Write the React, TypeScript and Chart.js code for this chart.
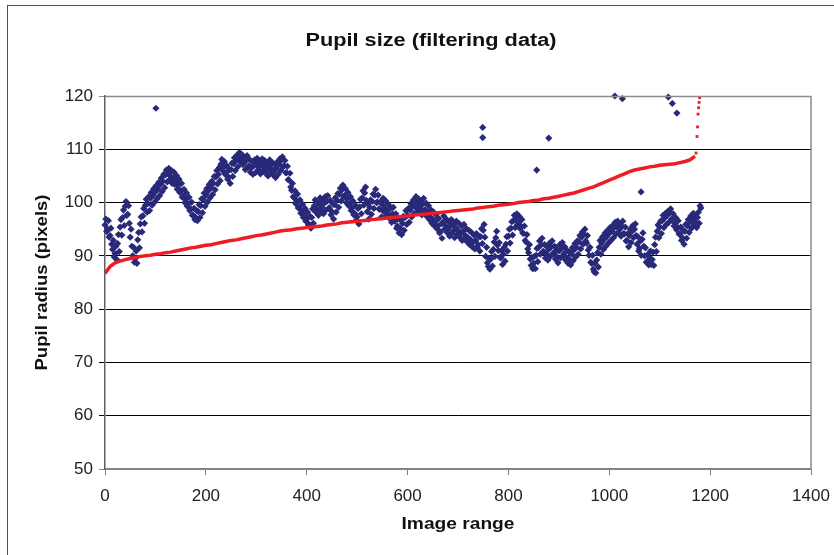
import React, { useEffect, useRef } from "react";
import { Chart, registerables } from "chart.js";

Chart.register(...registerables);

const TITLE = "Pupil size (filtering data)";
const X_TITLE = "Image range";
const Y_TITLE = "Pupil radius (pixels)";

// Blue series: values read every 5 images (centre, upper and lower part of the scatter band)
const BLUE_STEP = 5;
const blueMid = [
  95.8, 95.0, 93.8, 91.2, 90.4, 92.3, 95.4, 97.2, 99.3, 97.8,
  93.5, 90.0, 89.5, 93.0, 96.0, 97.5, 99.5, 99.8, 100.8, 101.3,
  102.0, 102.6, 103.4, 104.0, 105.2, 105.5, 104.9, 104.6, 103.8, 103.2,
  102.3, 101.2, 100.6, 99.8, 98.8, 97.6, 97.2, 98.3, 99.4, 100.6,
  101.4, 102.2, 102.8, 103.6, 104.8, 105.3, 107.2, 106.6, 105.6, 104.8,
  106.2, 107.3, 107.9, 108.7, 108.2, 107.4, 107.9, 106.9, 106.5, 106.9,
  107.4, 106.6, 107.3, 106.7, 106.2, 107.0, 106.4, 105.9, 106.5, 107.2,
  108.0, 106.9, 105.6, 104.2, 102.3, 100.9, 100.3, 99.2, 98.4, 97.6,
  96.9, 95.9, 97.2, 99.4, 98.8, 99.7, 99.1, 99.9, 100.2, 99.0,
  98.3, 99.6, 100.4, 101.6, 102.4, 101.3, 100.7, 99.8, 99.0, 98.0,
  97.3, 99.2, 100.9, 101.8, 98.3, 99.1, 100.2, 101.4, 100.1, 98.7,
  99.6, 99.0, 98.4, 97.6, 97.9, 96.5, 95.6, 95.2, 96.1, 97.2,
  97.6, 98.6, 99.3, 100.2, 99.6, 99.0, 99.7, 98.7, 98.1, 97.3,
  96.9, 96.4, 95.6, 94.5, 96.3, 95.7, 95.0, 95.6, 94.6, 95.3,
  94.8, 94.2, 94.6, 93.8, 93.4, 93.0, 92.6, 92.9, 92.1, 93.6,
  94.8, 89.9, 88.0, 89.4, 91.2, 93.4, 91.0, 89.6, 90.3, 92.2,
  93.7, 95.2, 96.6, 97.1, 96.3, 95.6, 94.2, 92.6, 90.6, 88.2,
  88.6, 90.1, 91.6, 92.1, 90.8, 90.4, 91.2, 91.7, 90.6, 89.9,
  90.9, 91.3, 90.4, 89.7, 89.4, 90.3, 91.1, 91.6, 92.6, 93.5,
  94.1, 92.4, 90.1, 88.6, 87.0, 89.2, 91.6, 92.4, 93.1, 93.6,
  94.2, 94.6, 95.3, 95.6, 94.9, 95.5, 94.1, 92.9, 93.8, 94.6,
  95.0, 92.2, 91.4, 93.1, 90.0, 88.9, 89.6, 89.3, 92.1, 94.6,
  95.4, 96.6, 97.1, 97.6, 98.1, 96.9, 96.1, 95.4, 94.1, 93.4,
  94.6, 95.6, 96.4, 97.1, 96.4, 97.2, 99.4,
];
const BLUE_UP_OFFSET = 1.7;
const blueUp = [
  96.9, 96.6, 95.2, 92.9, 91.8, 94.0, 96.8, 98.6, 100.2, 99.4,
  95.0, 91.6, 90.9, 94.4, 97.3, 98.9, 100.6, 101.1, 101.9, 102.6,
  103.2, 103.8, 104.6, 105.3, 106.1, 106.4, 106.0, 105.7, 105.1, 104.4,
  103.6, 102.5, 101.8, 101.0, 100.1, 98.9, 98.5, 99.6, 100.7, 101.8,
  102.6, 103.4, 104.0, 104.9, 106.0, 106.6, 108.1, 107.7, 106.9, 106.2,
  107.4, 108.4, 108.9, 109.4, 109.0, 108.5, 108.8, 108.1, 107.7, 108.0,
  108.3, 107.8, 108.2, 107.9, 107.4, 108.0, 107.5, 107.2, 107.6, 108.2,
  108.6, 107.9, 106.8, 105.5, 103.6, 102.2, 101.6, 100.5, 99.7, 98.9,
  98.2, 97.4, 98.8, 100.5, 100.1, 100.9, 100.4, 101.1, 101.3, 100.4,
  99.8, 100.9, 101.7, 102.7, 103.3, 102.6, 101.9, 101.1, 100.3, 99.5,
  98.9, 100.6, 102.2, 102.9, 99.8, 100.5, 101.6, 102.5, 101.4, 100.2,
  100.8, 100.3, 99.7, 99.0, 99.1, 97.9, 97.0, 96.7, 97.4, 98.5,
  98.9, 99.8, 100.5, 101.1, 100.7, 100.2, 100.8, 99.9, 99.4, 98.6,
  98.2, 97.7, 97.0, 96.0, 97.5, 96.9, 96.4, 96.8, 96.0, 96.5,
  96.1, 95.6, 95.9, 95.1, 94.8, 94.4, 93.9, 94.2, 93.6, 95.1,
  95.9, 91.6, 89.5, 90.8, 92.6, 94.6, 92.5, 91.0, 91.6, 93.6,
  95.0, 96.4, 97.6, 97.9, 97.4, 96.8, 95.6, 94.0, 92.1, 89.7,
  89.9, 91.4, 92.8, 93.3, 92.1, 91.7, 92.4, 92.8, 91.8, 91.2,
  92.1, 92.5, 91.7, 91.0, 90.7, 91.5, 92.3, 92.8, 93.8, 94.5,
  95.0, 93.8, 91.6, 90.1, 88.6, 90.6, 92.9, 93.6, 94.3, 94.8,
  95.3, 95.7, 96.3, 96.5, 95.9, 96.5, 95.4, 94.2, 95.0, 95.7,
  96.0, 93.6, 92.8, 94.3, 91.5, 90.3, 90.9, 90.7, 93.5, 95.8,
  96.5, 97.6, 98.0, 98.4, 98.8, 97.9, 97.2, 96.6, 95.4, 94.8,
  95.9, 96.8, 97.5, 98.0, 97.5, 98.2, 99.0,
];
const BLUE_LOW_OFFSET = 3.3;
const blueLow = [
  94.6, 93.5, 92.2, 89.8, 89.3, 90.8, 93.9, 95.7, 97.6, 96.1,
  91.8, 88.8, 88.6, 91.5, 94.5, 96.1, 98.2, 98.5, 99.5, 100.1,
  100.7, 101.3, 102.1, 102.8, 103.9, 104.3, 103.6, 103.4, 102.5, 101.9,
  101.0, 100.0, 99.3, 98.5, 97.6, 96.8, 96.6, 97.2, 98.1, 99.3,
  100.1, 100.9, 101.5, 102.4, 103.5, 104.1, 106.0, 105.3, 104.4, 103.6,
  104.9, 106.0, 106.7, 107.6, 107.1, 106.2, 106.6, 105.7, 105.3, 105.6,
  106.1, 105.4, 106.0, 105.5, 105.0, 105.8, 105.2, 104.7, 105.3, 106.0,
  106.7, 105.6, 104.3, 102.9, 101.1, 99.8, 99.0, 98.0, 97.2, 96.5,
  95.8, 95.2, 96.1, 98.2, 97.6, 98.4, 97.9, 98.6, 98.9, 97.7,
  96.9, 98.2, 99.1, 100.3, 101.1, 100.0, 99.4, 98.5, 97.7, 96.7,
  96.0, 97.9, 99.5, 100.4, 96.9, 97.8, 98.9, 100.0, 98.8, 97.3,
  98.3, 97.6, 97.1, 96.3, 96.6, 95.2, 94.3, 94.0, 94.8, 95.9,
  96.3, 97.3, 98.0, 98.9, 98.3, 97.7, 98.4, 97.4, 96.8, 96.1,
  95.6, 95.1, 94.3, 93.3, 95.0, 94.4, 93.7, 94.3, 93.4, 94.0,
  93.5, 92.9, 93.3, 92.6, 92.1, 91.7, 91.3, 91.6, 90.9, 92.3,
  93.5, 88.7, 87.5, 88.1, 89.9, 92.0, 89.7, 88.4, 89.0, 90.9,
  92.4, 93.9, 95.3, 95.9, 95.1, 94.3, 92.9, 91.3, 89.4, 87.6,
  87.6, 88.9, 90.3, 90.8, 89.6, 89.2, 89.9, 90.4, 89.4, 88.7,
  89.6, 90.0, 89.2, 88.6, 88.3, 89.1, 89.8, 90.3, 91.3, 92.2,
  92.8, 91.1, 88.8, 87.5, 86.8, 87.9, 90.3, 91.2, 91.8, 92.4,
  92.9, 93.4, 94.1, 94.4, 93.7, 94.2, 92.8, 91.7, 92.5, 93.4,
  93.8, 90.9, 90.1, 91.8, 88.8, 88.3, 88.4, 88.2, 90.8, 93.4,
  94.2, 95.3, 95.9, 96.3, 96.9, 95.6, 94.9, 94.1, 92.9, 92.2,
  93.3, 94.4, 95.2, 95.9, 95.3, 96.1, 98.0,
];

// Blue outliers
const blueOutX = [101, 749, 749, 856, 880, 1011, 1026, 1063, 1117, 1125, 1134];
const blueOutY = [117.7, 114.1, 112.2, 106.1, 112.1, 120.0, 119.5, 102.0, 119.8, 118.6, 116.8];

// Red series (sorted values): one value every RED_STEP images
const RED_STEP = 10;
const redValues = [
  86.7, 88.0, 88.7, 89.0, 89.3, 89.5, 89.7, 89.9, 90.0, 90.1,
  90.3, 90.4, 90.6, 90.7, 90.9, 91.1, 91.3, 91.5, 91.6, 91.8,
  92.0, 92.1, 92.3, 92.5, 92.7, 92.9, 93.0, 93.2, 93.4, 93.6,
  93.8, 93.9, 94.1, 94.3, 94.5, 94.7, 94.8, 94.9, 95.1, 95.2,
  95.3, 95.4, 95.5, 95.6, 95.8, 95.9, 96.0, 96.2, 96.3, 96.4,
  96.5, 96.6, 96.7, 96.8, 96.9, 97.0, 97.1, 97.2, 97.3, 97.4,
  97.5, 97.6, 97.7, 97.8, 97.9, 98.0, 98.1, 98.2, 98.3, 98.4,
  98.5, 98.6, 98.7, 98.8, 99.0, 99.1, 99.2, 99.3, 99.5, 99.6,
  99.7, 99.8, 100.0, 100.1, 100.2, 100.4, 100.5, 100.7, 100.8, 101.0,
  101.2, 101.4, 101.6, 101.8, 102.1, 102.4, 102.7, 103.0, 103.4, 103.8,
  104.2, 104.6, 105.0, 105.4, 105.8, 106.1, 106.3, 106.5, 106.7, 106.8,
  107.0, 107.1, 107.2, 107.3, 107.5, 107.7, 108.0, 108.7,
];
// Red tail (separate dots)
const redTailX = [1172, 1174, 1175, 1176, 1177, 1178, 1179, 1180];
const redTailY = [109.3, 112.4, 114.2, 116.6, 117.8, 118.8, 119.7, 120.0];

const xTicks = [0, 200, 400, 600, 800, 1000, 1200, 1400];
const yTicks = [50, 60, 70, 80, 90, 100, 110, 120];

const BLUE = "#29297a";
const RED = "#ee1c24";
const FONT = "'Liberation Sans', Arial, sans-serif";

function fitText(ctx: CanvasRenderingContext2D, text: string, x: number, y: number, width: number) {
  const w = ctx.measureText(text).width;
  ctx.save();
  ctx.translate(x, y);
  ctx.scale(width / w, 1);
  ctx.fillText(text, 0, 0);
  ctx.restore();
}

export default function App() {
  const ref = useRef<HTMLCanvasElement>(null);

  useEffect(() => {
    const canvas = ref.current;
    if (!canvas) return;

    const blueData = [
      ...blueMid.map((v, i) => ({ x: i * BLUE_STEP, y: v })),
      ...blueUp.map((v, i) => ({ x: i * BLUE_STEP + BLUE_UP_OFFSET, y: v })),
      ...blueLow.map((v, i) => ({ x: i * BLUE_STEP + BLUE_LOW_OFFSET, y: v })),
    ].filter((p) => p.x <= 1182);
    const blueOut = blueOutX.map((x, i) => ({ x, y: blueOutY[i] }));
    const redData = redValues.map((v, i) => ({ x: i * RED_STEP, y: v }));
    const redTail = redTailX.map((x, i) => ({ x, y: redTailY[i] }));

    const decor = {
      id: "decor",
      beforeDraw(chart: any) {
        const ctx = chart.ctx;
        ctx.save();
        ctx.fillStyle = "#ffffff";
        ctx.fillRect(0, 0, chart.width, chart.height);
        ctx.strokeStyle = "#505050";
        ctx.lineWidth = 1;
        ctx.strokeRect(7.5, 5.5, 1000, 1000);
        ctx.restore();
      },
      afterDatasetsDraw(chart: any) {
        const ctx = chart.ctx;
        const a = chart.chartArea;
        ctx.save();
        ctx.strokeStyle = "#8c8c8c";
        ctx.lineWidth = 1.5;
        ctx.beginPath();
        ctx.moveTo(a.left, a.top + 0.5);
        ctx.lineTo(a.right, a.top + 0.5);
        ctx.lineTo(a.right, a.bottom);
        ctx.stroke();
        ctx.restore();
      },
      afterDraw(chart: any) {
        const ctx = chart.ctx;
        const a = chart.chartArea;
        ctx.save();
        ctx.fillStyle = "#111111";
        ctx.textAlign = "center";
        ctx.textBaseline = "middle";
        ctx.font = `bold 18px ${FONT}`;
        fitText(ctx, TITLE, 431, 41, 251);
        ctx.font = `bold 16px ${FONT}`;
        fitText(ctx, X_TITLE, (a.left + a.right) / 2, 525, 113);
        ctx.translate(43, (a.top + a.bottom) / 2);
        ctx.rotate(-Math.PI / 2);
        fitText(ctx, Y_TITLE, 0, 0, 176);
        ctx.restore();
      },
    };

    const chart = new Chart(canvas, {
      type: "scatter",
      data: {
        datasets: [
          {
            label: "red",
            data: redData,
            showLine: true,
            borderColor: RED,
            borderWidth: 3.5,
            pointRadius: 0,
            backgroundColor: RED,
            order: 1,
          },
          {
            label: "redTail",
            data: redTail,
            showLine: false,
            pointStyle: "rect",
            pointRadius: 2,
            backgroundColor: RED,
            borderWidth: 0,
            order: 1,
          },
          {
            label: "blue",
            data: blueData,
            pointStyle: "rectRot",
            pointRadius: 3.6,
            backgroundColor: BLUE,
            borderColor: BLUE,
            borderWidth: 0,
            clip: false,
            order: 2,
          },
          {
            label: "blueOut",
            data: blueOut,
            pointStyle: "rectRot",
            pointRadius: 3.6,
            backgroundColor: BLUE,
            borderColor: BLUE,
            borderWidth: 0,
            clip: false,
            order: 2,
          },
        ] as any,
      },
      options: {
        animation: false,
        responsive: false,
        maintainAspectRatio: false,
        layout: { padding: { top: 96, right: 23, left: 0, bottom: 0 } },
        plugins: {
          legend: { display: false },
          title: { display: false },
          tooltip: { enabled: false },
        },
        scales: {
          x: {
            type: "linear",
            min: 0,
            max: 1400,
            afterBuildTicks: (s: any) => {
              s.ticks = xTicks.map((v) => ({ value: v }));
            },
            afterFit: (s: any) => {
              s.height = 86;
              s.paddingRight = 0;
              s.paddingLeft = 0;
            },
            grid: {
              drawOnChartArea: false,
              drawTicks: true,
              tickLength: 6,
              color: "#808080",
            },
            border: { color: "#808080", width: 1.5 },
            ticks: {
              color: "#222222",
              font: { family: FONT, size: 17 },
              padding: 11,
              maxRotation: 0,
              callback: (v: any) => String(v),
            },
          },
          y: {
            type: "linear",
            min: 50,
            max: 120,
            afterBuildTicks: (s: any) => {
              s.ticks = yTicks.map((v) => ({ value: v }));
            },
            afterFit: (s: any) => {
              s.width = 105;
              s.paddingTop = 0;
              s.paddingBottom = 0;
            },
            grid: {
              drawTicks: true,
              tickLength: 6,
              color: (c: any) =>
                c.tick && (c.tick.value === 120 || c.tick.value === 50) ? "#8c8c8c" : "#000000",
              lineWidth: 1,
            },
            border: { color: "#606060", width: 1.5 },
            ticks: {
              color: "#222222",
              font: { family: FONT, size: 17 },
              padding: 6,
              callback: (v: any) => String(v),
            },
          },
        },
      },
      plugins: [decor],
    } as any);

    return () => chart.destroy();
  }, []);

  return (
    <div style={{ position: "absolute", left: 0, top: 0, width: 834, height: 555 }}>
      <canvas ref={ref} width={834} height={555} style={{ width: 834, height: 555, display: "block" }} />
    </div>
  );
}
